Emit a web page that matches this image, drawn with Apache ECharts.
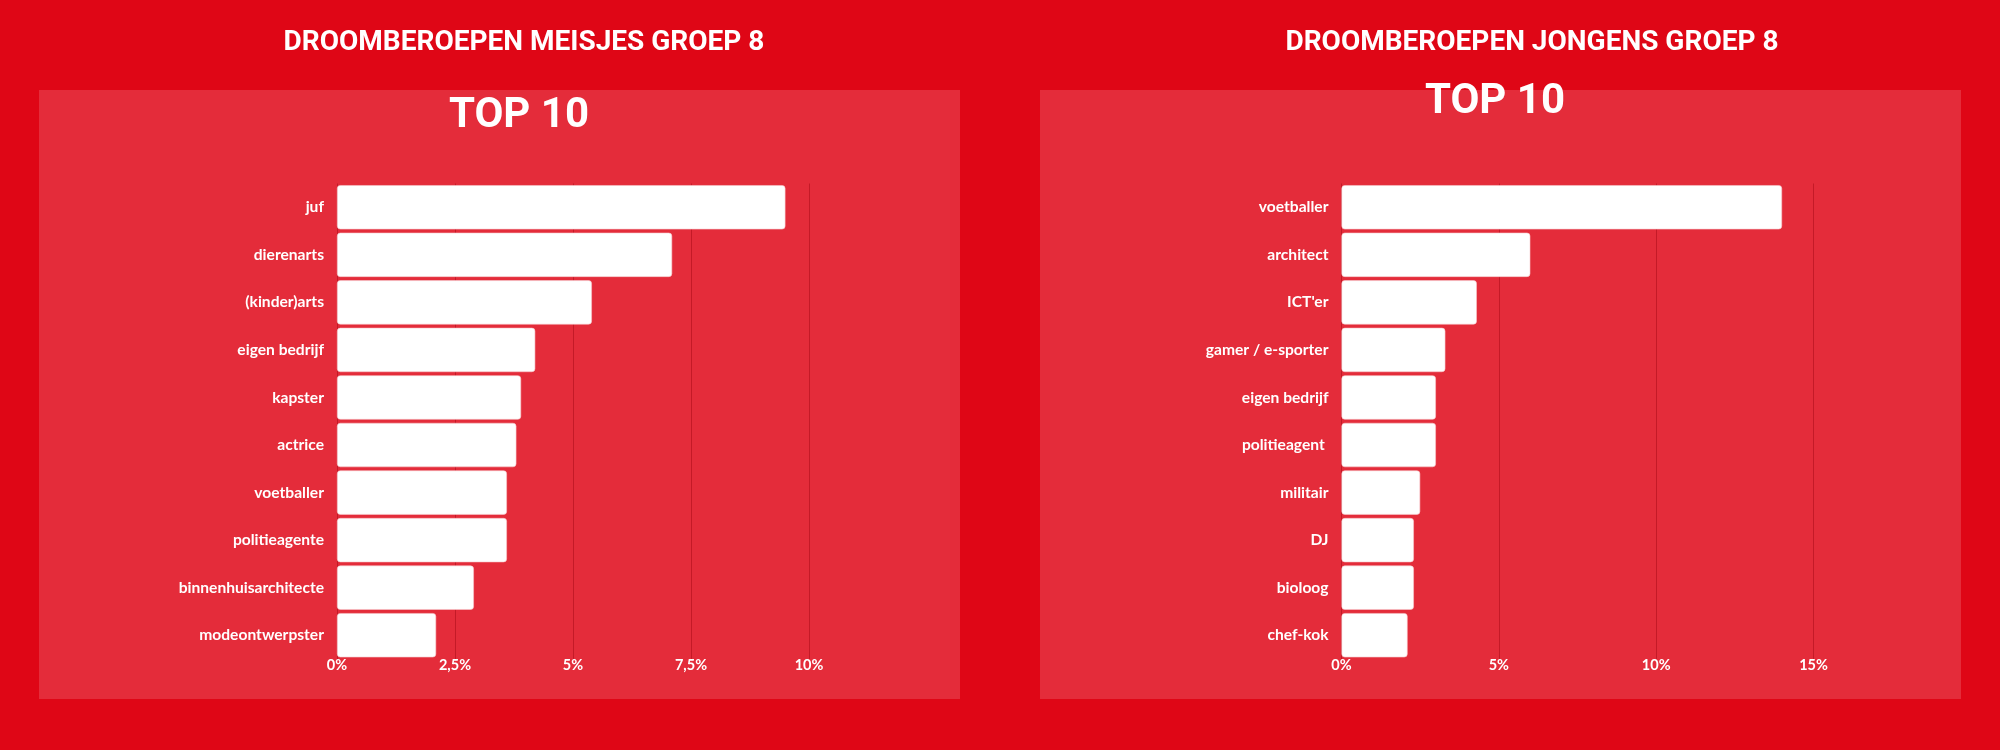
<!DOCTYPE html>
<html>
<head>
<meta charset="utf-8">
<script src="https://cdn.jsdelivr.net/npm/echarts@6/dist/echarts.min.js"></script>
<style>
  html, body { margin: 0; padding: 0; background: #df0616; }
  #chart { width: 2000px; height: 750px; }
</style>
</head>
<body>
<div id="chart"></div>
<script>
// ---- data ----
const girlsTitle = 'DROOMBEROEPEN MEISJES GROEP 8';
const boysTitle = 'DROOMBEROEPEN JONGENS GROEP 8';
const subTitle = 'TOP 10';

const girlsCategories = ['juf', 'dierenarts', '(kinder)arts', 'eigen bedrijf', 'kapster', 'actrice', 'voetballer', 'politieagente', 'binnenhuisarchitecte', 'modeontwerpster'];
const girlsValues = [9.5, 7.1, 5.4, 4.2, 3.9, 3.8, 3.6, 3.6, 2.9, 2.1];

const boysCategories = ['voetballer', 'architect', "ICT'er", 'gamer / e-sporter', 'eigen bedrijf', 'politieagent ', 'militair', 'DJ', 'bioloog', 'chef-kok'];
const boysValues = [14.0, 6.0, 4.3, 3.3, 3.0, 3.0, 2.5, 2.3, 2.3, 2.1];

const girlsAxisMax = 10, girlsAxisStep = 2.5;
const boysAxisMax = 15, boysAxisStep = 5;

// ---- chart ----
const chart = echarts.init(document.getElementById('chart'), null, { renderer: 'canvas' });

const pctFmt = v => String(v).replace('.', ',') + '%';
const gridLine = { show: true, lineStyle: { color: '#c41a27', width: 1 } };

function xAxis(gridIndex, max, step) {
  return {
    type: 'value', gridIndex, min: 0, max, interval: step,
    axisLine: { show: false }, axisTick: { show: false },
    splitLine: gridLine,
    axisLabel: { formatter: pctFmt, margin: -1, color: '#ffffff', fontFamily: 'Lato', fontWeight: 'bold', fontSize: 14.5 }
  };
}
function yAxis(gridIndex, cats) {
  return {
    type: 'category', gridIndex, data: cats, inverse: true,
    axisLine: { show: false }, axisTick: { show: false },
    splitLine: { show: false },
    axisLabel: { margin: 13, color: '#ffffff', fontFamily: 'Lato', fontWeight: 'bold', fontSize: 15.6 }
  };
}
function barSeries(idx, values) {
  return {
    type: 'bar', xAxisIndex: idx, yAxisIndex: idx, data: values,
    barCategoryGap: '7%',
    itemStyle: { color: '#ffffff', borderRadius: 3, borderColor: '#f6c9cc', borderWidth: 0.6 },
    silent: true
  };
}

const titleStyle = { fill: '#ffffff', fontFamily: 'Roboto', fontWeight: 'bold', fontSize: 28, align: 'center', verticalAlign: 'middle' };
const topStyle = { fill: '#ffffff', fontFamily: 'Roboto', fontWeight: 'bold', fontSize: 42, align: 'center', verticalAlign: 'middle' };

chart.setOption({
  backgroundColor: '#df0616',
  animation: false,
  graphic: [
    { type: 'rect', z: -10, shape: { x: 39, y: 90, width: 921, height: 609 }, style: { fill: '#e42c3a' } },
    { type: 'rect', z: -10, shape: { x: 1040, y: 90, width: 921, height: 609 }, style: { fill: '#e42c3a' } },
    { type: 'text', z: 10, style: Object.assign({ text: girlsTitle, x: 524, y: 43 }, titleStyle) },
    { type: 'text', z: 10, style: Object.assign({ text: boysTitle, x: 1532, y: 43 }, titleStyle) },
    { type: 'text', z: 10, style: Object.assign({ text: subTitle, x: 519, y: 116 }, topStyle) },
    { type: 'text', z: 10, style: Object.assign({ text: subTitle, x: 1495, y: 102 }, topStyle) }
  ],
  grid: [
    { left: 337, width: 472, top: 183.5, height: 475.5 },
    { left: 1341.5, width: 472, top: 183.5, height: 475.5 }
  ],
  xAxis: [xAxis(0, girlsAxisMax, girlsAxisStep), xAxis(1, boysAxisMax, boysAxisStep)],
  yAxis: [yAxis(0, girlsCategories), yAxis(1, boysCategories)],
  series: [barSeries(0, girlsValues), barSeries(1, boysValues)]
});
</script>
</body>
</html>
